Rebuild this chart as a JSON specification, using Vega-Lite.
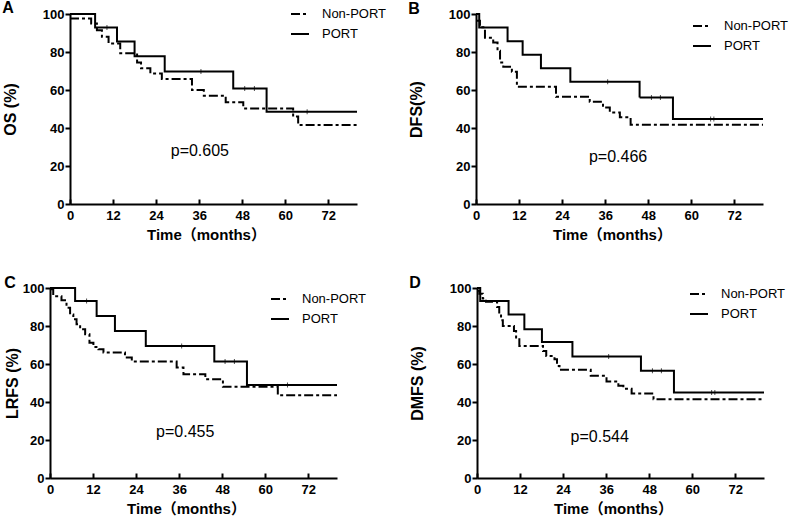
{
  "$schema": "https://vega.github.io/schema/vega-lite/v6.json",
  "padding": {"left": 2, "top": 0, "right": 0, "bottom": 0},
  "datasets": {
    "curves": [
      {"panel": "A", "group": "PORT", "m": 0, "s": 100},
      {"panel": "A", "group": "PORT", "m": 7, "s": 92.9},
      {"panel": "A", "group": "PORT", "m": 13.1, "s": 85.5},
      {"panel": "A", "group": "PORT", "m": 18, "s": 77.8},
      {"panel": "A", "group": "PORT", "m": 26.4, "s": 69.8},
      {"panel": "A", "group": "PORT", "m": 45.5, "s": 60.8},
      {"panel": "A", "group": "PORT", "m": 54.8, "s": 48.6},
      {"panel": "A", "group": "PORT", "m": 80, "s": 48.6},
      {"panel": "A", "group": "Non-PORT", "m": 0, "s": 97.6},
      {"panel": "A", "group": "Non-PORT", "m": 5.9, "s": 95},
      {"panel": "A", "group": "Non-PORT", "m": 7.5, "s": 91.5},
      {"panel": "A", "group": "Non-PORT", "m": 8.9, "s": 88},
      {"panel": "A", "group": "Non-PORT", "m": 10.75, "s": 84.5},
      {"panel": "A", "group": "Non-PORT", "m": 14, "s": 79.3},
      {"panel": "A", "group": "Non-PORT", "m": 18.7, "s": 74.5},
      {"panel": "A", "group": "Non-PORT", "m": 19.8, "s": 71.4},
      {"panel": "A", "group": "Non-PORT", "m": 22.4, "s": 68.7},
      {"panel": "A", "group": "Non-PORT", "m": 25.6, "s": 65.8},
      {"panel": "A", "group": "Non-PORT", "m": 34, "s": 60},
      {"panel": "A", "group": "Non-PORT", "m": 37.3, "s": 57},
      {"panel": "A", "group": "Non-PORT", "m": 43.4, "s": 53.5},
      {"panel": "A", "group": "Non-PORT", "m": 48.3, "s": 50.3},
      {"panel": "A", "group": "Non-PORT", "m": 62.2, "s": 46},
      {"panel": "A", "group": "Non-PORT", "m": 63.6, "s": 41.6},
      {"panel": "A", "group": "Non-PORT", "m": 80, "s": 41.6},

      {"panel": "B", "group": "PORT", "m": 0, "s": 100},
      {"panel": "B", "group": "PORT", "m": 0.9, "s": 92.9},
      {"panel": "B", "group": "PORT", "m": 8.8, "s": 85.7},
      {"panel": "B", "group": "PORT", "m": 13, "s": 78.6},
      {"panel": "B", "group": "PORT", "m": 18.1, "s": 71.4},
      {"panel": "B", "group": "PORT", "m": 26.3, "s": 64.3},
      {"panel": "B", "group": "PORT", "m": 45.6, "s": 56.1},
      {"panel": "B", "group": "PORT", "m": 54.9, "s": 44.7},
      {"panel": "B", "group": "PORT", "m": 80, "s": 44.7},
      {"panel": "B", "group": "Non-PORT", "m": 0, "s": 96.5},
      {"panel": "B", "group": "Non-PORT", "m": 1.1, "s": 93},
      {"panel": "B", "group": "Non-PORT", "m": 2.5, "s": 87.5},
      {"panel": "B", "group": "Non-PORT", "m": 4.8, "s": 85},
      {"panel": "B", "group": "Non-PORT", "m": 6, "s": 80.7},
      {"panel": "B", "group": "Non-PORT", "m": 6.7, "s": 74.5},
      {"panel": "B", "group": "Non-PORT", "m": 7.6, "s": 72.3},
      {"panel": "B", "group": "Non-PORT", "m": 10, "s": 69.6},
      {"panel": "B", "group": "Non-PORT", "m": 11.4, "s": 61.7},
      {"panel": "B", "group": "Non-PORT", "m": 22.3, "s": 56.5},
      {"panel": "B", "group": "Non-PORT", "m": 31.7, "s": 53.8},
      {"panel": "B", "group": "Non-PORT", "m": 35.4, "s": 50.8},
      {"panel": "B", "group": "Non-PORT", "m": 37.3, "s": 48.2},
      {"panel": "B", "group": "Non-PORT", "m": 40.1, "s": 45.6},
      {"panel": "B", "group": "Non-PORT", "m": 43.1, "s": 41.7},
      {"panel": "B", "group": "Non-PORT", "m": 80, "s": 41.7},

      {"panel": "C", "group": "PORT", "m": 0, "s": 100},
      {"panel": "C", "group": "PORT", "m": 7, "s": 93.1},
      {"panel": "C", "group": "PORT", "m": 13, "s": 85.2},
      {"panel": "C", "group": "PORT", "m": 18.1, "s": 77.4},
      {"panel": "C", "group": "PORT", "m": 26.7, "s": 69.5},
      {"panel": "C", "group": "PORT", "m": 45.8, "s": 61.3},
      {"panel": "C", "group": "PORT", "m": 54.9, "s": 48.9},
      {"panel": "C", "group": "PORT", "m": 80, "s": 48.9},
      {"panel": "C", "group": "Non-PORT", "m": 0, "s": 99.3},
      {"panel": "C", "group": "Non-PORT", "m": 0.9, "s": 95.7},
      {"panel": "C", "group": "Non-PORT", "m": 3.2, "s": 93.5},
      {"panel": "C", "group": "Non-PORT", "m": 4.6, "s": 89.6},
      {"panel": "C", "group": "Non-PORT", "m": 5.6, "s": 86.1},
      {"panel": "C", "group": "Non-PORT", "m": 6.5, "s": 83.5},
      {"panel": "C", "group": "Non-PORT", "m": 7.4, "s": 80.9},
      {"panel": "C", "group": "Non-PORT", "m": 8.4, "s": 78.3},
      {"panel": "C", "group": "Non-PORT", "m": 9.8, "s": 75.6},
      {"panel": "C", "group": "Non-PORT", "m": 11, "s": 71.2},
      {"panel": "C", "group": "Non-PORT", "m": 12.1, "s": 69},
      {"panel": "C", "group": "Non-PORT", "m": 13.5, "s": 67.8},
      {"panel": "C", "group": "Non-PORT", "m": 14.9, "s": 66},
      {"panel": "C", "group": "Non-PORT", "m": 20.9, "s": 63.4},
      {"panel": "C", "group": "Non-PORT", "m": 22.8, "s": 61.3},
      {"panel": "C", "group": "Non-PORT", "m": 35.3, "s": 58.1},
      {"panel": "C", "group": "Non-PORT", "m": 37.2, "s": 54.6},
      {"panel": "C", "group": "Non-PORT", "m": 43.3, "s": 52},
      {"panel": "C", "group": "Non-PORT", "m": 48.2, "s": 48},
      {"panel": "C", "group": "Non-PORT", "m": 63.5, "s": 43.6},
      {"panel": "C", "group": "Non-PORT", "m": 80, "s": 43.6},

      {"panel": "D", "group": "PORT", "m": 0, "s": 100},
      {"panel": "D", "group": "PORT", "m": 0.9, "s": 93.1},
      {"panel": "D", "group": "PORT", "m": 8.8, "s": 86.1},
      {"panel": "D", "group": "PORT", "m": 13.2, "s": 78.3},
      {"panel": "D", "group": "PORT", "m": 18.1, "s": 71.6},
      {"panel": "D", "group": "PORT", "m": 26.6, "s": 63.9},
      {"panel": "D", "group": "PORT", "m": 45.7, "s": 56.4},
      {"panel": "D", "group": "PORT", "m": 54.9, "s": 45},
      {"panel": "D", "group": "PORT", "m": 80, "s": 45},
      {"panel": "D", "group": "Non-PORT", "m": 0, "s": 98.6},
      {"panel": "D", "group": "Non-PORT", "m": 0.65, "s": 97},
      {"panel": "D", "group": "Non-PORT", "m": 1.6, "s": 94.5},
      {"panel": "D", "group": "Non-PORT", "m": 2.5, "s": 92.8},
      {"panel": "D", "group": "Non-PORT", "m": 5.6, "s": 90},
      {"panel": "D", "group": "Non-PORT", "m": 6.2, "s": 86.1},
      {"panel": "D", "group": "Non-PORT", "m": 6.7, "s": 83},
      {"panel": "D", "group": "Non-PORT", "m": 7.2, "s": 80},
      {"panel": "D", "group": "Non-PORT", "m": 10.3, "s": 77.4},
      {"panel": "D", "group": "Non-PORT", "m": 10.9, "s": 73.9},
      {"panel": "D", "group": "Non-PORT", "m": 11.8, "s": 69.5},
      {"panel": "D", "group": "Non-PORT", "m": 18.4, "s": 66.9},
      {"panel": "D", "group": "Non-PORT", "m": 19.3, "s": 64.2},
      {"panel": "D", "group": "Non-PORT", "m": 21.6, "s": 62.5},
      {"panel": "D", "group": "Non-PORT", "m": 22.3, "s": 59},
      {"panel": "D", "group": "Non-PORT", "m": 23, "s": 57},
      {"panel": "D", "group": "Non-PORT", "m": 31.7, "s": 53.8},
      {"panel": "D", "group": "Non-PORT", "m": 36.1, "s": 50.8},
      {"panel": "D", "group": "Non-PORT", "m": 39.4, "s": 48.5},
      {"panel": "D", "group": "Non-PORT", "m": 40.8, "s": 47},
      {"panel": "D", "group": "Non-PORT", "m": 43.1, "s": 44.5},
      {"panel": "D", "group": "Non-PORT", "m": 49.2, "s": 41.5},
      {"panel": "D", "group": "Non-PORT", "m": 80, "s": 41.5}
    ],
    "censor": [
      {"panel": "A", "m": 10.3, "s": 92.9},
      {"panel": "A", "m": 36.5, "s": 69.8},
      {"panel": "A", "m": 48.7, "s": 60.8},
      {"panel": "A", "m": 51.4, "s": 60.8},
      {"panel": "A", "m": 66.1, "s": 48.6},
      {"panel": "B", "m": 36.7, "s": 64.3},
      {"panel": "B", "m": 48.9, "s": 56.1},
      {"panel": "B", "m": 51.4, "s": 56.1},
      {"panel": "B", "m": 65.4, "s": 44.7},
      {"panel": "B", "m": 66.3, "s": 44.7},
      {"panel": "C", "m": 10.2, "s": 93.1},
      {"panel": "C", "m": 36.7, "s": 69.5},
      {"panel": "C", "m": 48.8, "s": 61.3},
      {"panel": "C", "m": 51.4, "s": 61.3},
      {"panel": "C", "m": 66.2, "s": 48.9},
      {"panel": "D", "m": 36.7, "s": 63.9},
      {"panel": "D", "m": 48.9, "s": 56.4},
      {"panel": "D", "m": 51.4, "s": 56.4},
      {"panel": "D", "m": 65.4, "s": 45},
      {"panel": "D", "m": 66.3, "s": 45}
    ],
    "pvals": [
      {"panel": "A", "m": 36.2, "s": 28, "label": "p=0.605"},
      {"panel": "B", "m": 39.6, "s": 24.5, "label": "p=0.466"},
      {"panel": "C", "m": 37.7, "s": 24, "label": "p=0.455"},
      {"panel": "D", "m": 34.2, "s": 21.4, "label": "p=0.544"}
    ]
  },
  "spacing": 33,
  "resolve": {"scale": {"strokeDash": "independent"}, "legend": {"strokeDash": "independent"}},
  "vconcat": [
    {
      "spacing": 21,
      "resolve": {"scale": {"strokeDash": "independent"}, "legend": {"strokeDash": "independent"}},
      "hconcat": [
        {
          "width": 307, "height": 190,
          "title": {"text": "A", "offset": -12},
          "encoding": {
            "x": {"field": "m", "type": "quantitative", "scale": {"domain": [0, 80], "nice": false, "range": [20, 307]}, "axis": {"values": [0, 12, 24, 36, 48, 60, 72], "title": "Time（months）", "titleX": 156}},
            "y": {"field": "s", "type": "quantitative", "scale": {"domain": [0, 100], "nice": false}, "axis": {"values": [0, 20, 40, 60, 80, 100], "title": "OS (%)", "titlePadding": 24, "offset": -20}}
          },
          "layer": [
            {"data": {"name": "curves"}, "transform": [{"filter": "datum.panel == 'A'"}],
             "mark": {"type": "line", "interpolate": "step-after", "color": "black", "strokeWidth": 2},
             "encoding": {"strokeDash": {"field": "group", "type": "nominal", "scale": {"domain": ["Non-PORT", "PORT"], "range": [[9, 3, 3, 3], [1, 0]]}, "legend": {"legendX": 240, "legendY": -10}}}},
            {"data": {"name": "censor"}, "transform": [{"filter": "datum.panel == 'A'"}],
             "mark": {"type": "tick", "orient": "vertical", "size": 5, "thickness": 1, "color": "black"}},
            {"data": {"name": "pvals"}, "transform": [{"filter": "datum.panel == 'A'"}],
             "mark": {"type": "text", "fontSize": 16, "font": "Liberation Sans", "color": "black"},
             "encoding": {"text": {"field": "label"}}}
          ]
        },
        {
          "width": 287, "height": 190,
          "title": {"text": "B", "offset": -9},
          "encoding": {
            "x": {"field": "m", "type": "quantitative", "scale": {"domain": [0, 80], "nice": false}, "axis": {"values": [0, 12, 24, 36, 48, 60, 72], "title": "Time（months）"}},
            "y": {"field": "s", "type": "quantitative", "scale": {"domain": [0, 100], "nice": false}, "axis": {"values": [0, 20, 40, 60, 80, 100], "title": "DFS(%)", "titlePadding": 24}}
          },
          "layer": [
            {"data": {"name": "curves"}, "transform": [{"filter": "datum.panel == 'B'"}],
             "mark": {"type": "line", "interpolate": "step-after", "color": "black", "strokeWidth": 2},
             "encoding": {"strokeDash": {"field": "group", "type": "nominal", "scale": {"domain": ["Non-PORT", "PORT"], "range": [[9, 3, 3, 3], [1, 0]]}, "legend": {"legendX": 216, "legendY": 2}}}},
            {"data": {"name": "censor"}, "transform": [{"filter": "datum.panel == 'B'"}],
             "mark": {"type": "tick", "orient": "vertical", "size": 5, "thickness": 1, "color": "black"}},
            {"data": {"name": "pvals"}, "transform": [{"filter": "datum.panel == 'B'"}],
             "mark": {"type": "text", "fontSize": 16, "font": "Liberation Sans", "color": "black"},
             "encoding": {"text": {"field": "label"}}}
          ]
        }
      ]
    },
    {
      "spacing": 42,
      "resolve": {"scale": {"strokeDash": "independent"}, "legend": {"strokeDash": "independent"}},
      "hconcat": [
        {
          "width": 287, "height": 190,
          "title": {"text": "C", "offset": -9},
          "encoding": {
            "x": {"field": "m", "type": "quantitative", "scale": {"domain": [0, 80], "nice": false}, "axis": {"values": [0, 12, 24, 36, 48, 60, 72], "title": "Time（months）"}},
            "y": {"field": "s", "type": "quantitative", "scale": {"domain": [0, 100], "nice": false}, "axis": {"values": [0, 20, 40, 60, 80, 100], "title": "LRFS (%)", "titlePadding": 2}}
          },
          "layer": [
            {"data": {"name": "curves"}, "transform": [{"filter": "datum.panel == 'C'"}],
             "mark": {"type": "line", "interpolate": "step-after", "color": "black", "strokeWidth": 2},
             "encoding": {"strokeDash": {"field": "group", "type": "nominal", "scale": {"domain": ["Non-PORT", "PORT"], "range": [[9, 3, 3, 3], [1, 0]]}, "legend": {"legendX": 220, "legendY": 1}}}},
            {"data": {"name": "censor"}, "transform": [{"filter": "datum.panel == 'C'"}],
             "mark": {"type": "tick", "orient": "vertical", "size": 5, "thickness": 1, "color": "black"}},
            {"data": {"name": "pvals"}, "transform": [{"filter": "datum.panel == 'C'"}],
             "mark": {"type": "text", "fontSize": 16, "font": "Liberation Sans", "color": "black"},
             "encoding": {"text": {"field": "label"}}}
          ]
        },
        {
          "width": 287, "height": 190,
          "title": {"text": "D", "offset": -9},
          "encoding": {
            "x": {"field": "m", "type": "quantitative", "scale": {"domain": [0, 80], "nice": false}, "axis": {"values": [0, 12, 24, 36, 48, 60, 72], "title": "Time（months）"}},
            "y": {"field": "s", "type": "quantitative", "scale": {"domain": [0, 100], "nice": false}, "axis": {"values": [0, 20, 40, 60, 80, 100], "title": "DMFS (%)", "titlePadding": 24}}
          },
          "layer": [
            {"data": {"name": "curves"}, "transform": [{"filter": "datum.panel == 'D'"}],
             "mark": {"type": "line", "interpolate": "step-after", "color": "black", "strokeWidth": 2},
             "encoding": {"strokeDash": {"field": "group", "type": "nominal", "scale": {"domain": ["Non-PORT", "PORT"], "range": [[9, 3, 3, 3], [1, 0]]}, "legend": {"legendX": 212, "legendY": -4}}}},
            {"data": {"name": "censor"}, "transform": [{"filter": "datum.panel == 'D'"}],
             "mark": {"type": "tick", "orient": "vertical", "size": 5, "thickness": 1, "color": "black"}},
            {"data": {"name": "pvals"}, "transform": [{"filter": "datum.panel == 'D'"}],
             "mark": {"type": "text", "fontSize": 16, "font": "Liberation Sans", "color": "black"},
             "encoding": {"text": {"field": "label"}}}
          ]
        }
      ]
    }
  ],
  "config": {
    "view": {"stroke": null},
    "font": "Liberation Sans",
    "axis": {"grid": false, "domainColor": "black", "domainWidth": 2, "tickColor": "black", "tickWidth": 2, "tickSize": 5,
             "labelFont": "Liberation Sans", "labelFontSize": 13, "labelFontWeight": "bold", "labelColor": "black", "labelFlush": false,
             "titleFont": "Liberation Sans", "titleFontSize": 16, "titleFontWeight": "bold", "titleColor": "black"},
    "axisX": {"tickSize": -5, "labelPadding": 10, "titleFontSize": 15, "titleFont": "Liberation Sans, Noto Sans CJK SC", "titlePadding": 5, "titleX": 136},
    "axisY": {"labelPadding": 1},
    "legend": {"orient": "none", "title": null, "padding": 0, "symbolType": "stroke", "symbolStrokeColor": "black", "symbolStrokeWidth": 2,
               "symbolSize": 324, "labelFont": "Liberation Sans", "labelFontSize": 13, "labelColor": "black", "labelOffset": 12, "rowPadding": 3},
    "title": {"fontSize": 16, "fontWeight": "bold", "font": "Liberation Sans", "color": "black", "anchor": "start", "frame": "bounds"}
  }
}
